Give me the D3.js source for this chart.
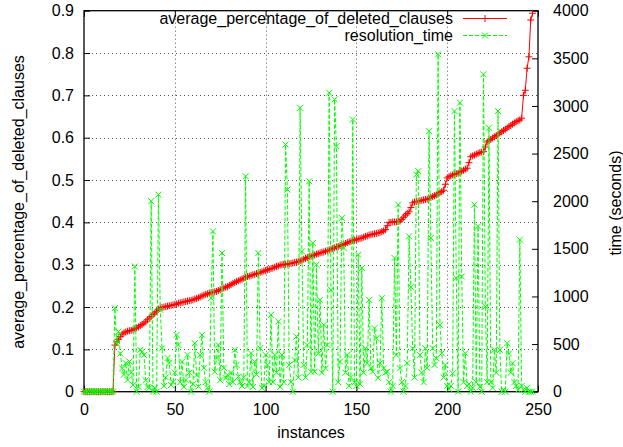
<!DOCTYPE html>
<html><head><meta charset="utf-8">
<script src="https://cdn.jsdelivr.net/npm/d3@7"></script>
<style>
body{margin:0;background:#fff;}
text{font-family:"Liberation Sans",Arial,sans-serif;font-size:16px;fill:#000;}
</style></head>
<body>
<svg id="c" width="623" height="447"></svg>
<script>
// average_percentage_of_deleted_clauses per instance (sorted)
const deletedClauses = [
0,0,0,0,0,0,0,0,0,0,0,0,0,0,0,0,0,
0.110,0.118,0.124,0.130,0.136,0.139,0.141,0.143,0.144,0.145,
0.146,0.149,0.151,0.153,0.156,0.159,0.162,0.165,0.170,0.174,
0.178,0.182,0.186,0.190,0.195,0.198,0.199,0.200,0.201,0.202,
0.203,0.204,0.205,0.206,0.207,0.209,0.210,0.211,0.212,0.213,
0.214,0.215,0.216,0.217,0.219,0.220,0.222,0.224,0.226,0.228,
0.230,0.231,0.233,0.234,0.235,0.236,0.237,0.239,0.241,0.243,
0.245,0.247,0.248,0.251,0.253,0.256,0.258,0.260,0.262,0.264,
0.266,0.268,0.270,0.272,0.273,0.275,0.276,0.277,0.279,0.280,
0.282,0.283,0.285,0.286,0.288,0.289,0.291,0.292,0.294,0.296,
0.297,0.299,0.300,0.301,0.301,0.302,0.302,0.303,0.304,0.305,
0.306,0.307,0.309,0.311,0.313,0.315,0.317,0.319,0.320,0.322,
0.323,0.325,0.326,0.328,0.329,0.330,0.332,0.333,0.335,0.337,
0.338,0.340,0.342,0.343,0.345,0.346,0.348,0.350,0.352,0.354,
0.355,0.357,0.358,0.359,0.361,0.362,0.363,0.365,0.367,0.368,
0.370,0.371,0.372,0.373,0.374,0.375,0.376,0.378,0.380,0.383,
0.392,0.400,0.400,0.401,0.401,0.401,0.402,0.403,0.407,0.412,
0.417,0.421,0.425,0.435,0.446,0.448,0.449,0.450,0.451,0.452,
0.453,0.454,0.455,0.457,0.459,0.461,0.463,0.465,0.467,0.470,
0.473,0.476,0.490,0.505,0.508,0.510,0.512,0.514,0.515,0.516,
0.519,0.521,0.523,0.526,0.528,0.541,0.555,0.557,0.559,0.561,
0.563,0.565,0.566,0.567,0.578,0.590,0.593,0.596,0.599,0.602,
0.605,0.608,0.611,0.614,0.617,0.620,0.623,0.626,0.629,0.632,
0.635,0.638,0.640,0.642,0.646,0.700,0.712,0.764,0.791,0.878,
0.894
];
// resolution_time (seconds) per instance
const resolutionTime = [
0,0,0,0,0,0,0,0,0,0,0,0,0,0,0,0,0,
877,509,631,400,246,180,300,123,316,200,
70,1315,0,50,439,421,386,120,50,40,
2000,0,40,0,2069,860,456,60,150,354,
302,70,100,200,597,491,100,315,50,123,
386,200,0,80,509,175,53,386,597,250,
100,40,0,983,1683,210,354,491,120,1456,
250,144,176,80,200,100,439,281,158,100,
60,150,2262,60,100,404,50,316,180,1456,
456,40,60,386,281,100,807,100,386,200,
737,50,386,100,2595,2122,281,100,0,333,
579,150,2981,1473,281,150,491,2209,210,1561,
210,1333,400,965,200,702,246,491,3139,1070,
0,3069,2577,100,316,1824,1509,200,386,60,
150,2858,100,60,1438,80,1298,200,456,300,
965,246,210,667,561,144,300,983,246,200,
210,100,0,60,1403,386,1964,246,100,0,
60,300,1631,1100,456,150,2280,2315,386,200,
100,456,250,2735,1614,456,281,350,3542,702,
404,150,281,60,30,60,193,2946,1193,0,
3034,1210,100,404,60,80,0,40,1964,100,
1736,50,0,3332,894,100,2771,100,40,439,
200,2946,439,0,20,0,509,400,200,299,
100,60,20,1596,60,20,0,40,0,0,
0
];
const xTicks = [0,50,100,150,200,250];
const yLeftTicks = [0,0.1,0.2,0.3,0.4,0.5,0.6,0.7,0.8,0.9];
const yRightTicks = [0,500,1000,1500,2000,2500,3000,3500,4000];
const seriesNames = ["average_percentage_of_deleted_clauses","resolution_time"];
const axisTitles = {x:"instances", yl:"average_percentage_of_deleted_clauses", yr:"time (seconds)"};

const svg = d3.select("#c");
const L=84, R=538, T=10.7, B=391.7;
const x = d3.scaleLinear().domain([0,250]).range([L,R]);
const yl = d3.scaleLinear().domain([0,0.9]).range([B,T]);
const yr = d3.scaleLinear().domain([0,4000]).range([B,T]);

// grid
const grid = svg.append("g").attr("stroke","#555").attr("stroke-width",1).attr("stroke-dasharray","1,3");
xTicks.slice(1,-1).forEach(t=>grid.append("line").attr("x1",Math.round(x(t))+0.5).attr("x2",Math.round(x(t))+0.5).attr("y1",T).attr("y2",B));
yLeftTicks.slice(1,-1).forEach(t=>grid.append("line").attr("x1",L).attr("x2",R).attr("y1",Math.round(yl(t))+0.5).attr("y2",Math.round(yl(t))+0.5));

// axes
const axB = d3.axisBottom(x).tickValues(xTicks).tickSize(-6).tickPadding(12).tickFormat(d3.format("d"));
const axT = d3.axisTop(x).tickValues(xTicks).tickSize(-6).tickFormat("");
const axL = d3.axisLeft(yl).tickValues(yLeftTicks).tickSize(-6).tickPadding(10).tickFormat(d=>d===0?"0":d3.format(".1f")(d));
const axR = d3.axisRight(yr).tickValues(yRightTicks).tickSize(-6).tickPadding(15).tickFormat(d3.format("d"));
function style(g){g.select(".domain").remove();g.selectAll("line").attr("stroke","#000");g.selectAll("text").attr("font-size",16).attr("font-family","Liberation Sans, Arial, sans-serif").attr("fill","#000");}
svg.append("g").attr("transform",`translate(0,${B})`).call(axB).call(style);
svg.append("g").attr("transform",`translate(0,${T})`).call(axT).call(style);
svg.append("g").attr("transform",`translate(${L},0)`).call(axL).call(style);
svg.append("g").attr("transform",`translate(${R},0)`).call(axR).call(style);

// border
svg.append("rect").attr("x",L).attr("y",T).attr("width",R-L).attr("height",B-T).attr("fill","none").attr("stroke","#000").attr("stroke-width",1.3);

const idx = d3.range(deletedClauses.length);
const red="#ff0000", green="#00ff00";
// red series
const lineL = d3.line().x(i=>x(i)).y(i=>yl(deletedClauses[i]));
svg.append("path").attr("d",lineL(idx)).attr("fill","none").attr("stroke",red).attr("stroke-width",1);
const plus = (g,cx,cy,s)=>g.append("path").attr("d",`M${cx-s},${cy}H${cx+s}M${cx},${cy-s}V${cy+s}`).attr("stroke",red).attr("stroke-width",1).attr("fill","none");
const pg = svg.append("g");
idx.forEach(i=>plus(pg,x(i),yl(deletedClauses[i]),3.5));

// green series
const gIdx = d3.range(resolutionTime.length);
const lineR = d3.line().x(i=>x(i)).y(i=>yr(resolutionTime[i]));
svg.append("path").attr("d",lineR(gIdx)).attr("fill","none").attr("stroke",green).attr("stroke-width",1).attr("stroke-dasharray","4,2");
const cross = (g,cx,cy,s,c)=>g.append("path").attr("d",`M${cx-s},${cy-s}L${cx+s},${cy+s}M${cx-s},${cy+s}L${cx+s},${cy-s}`).attr("stroke",c).attr("stroke-width",1).attr("fill","none");
const cg = svg.append("g");
gIdx.forEach(i=>cross(cg,x(i),yr(resolutionTime[i]),3,green));

// legend
const lg = svg.append("g");
lg.append("text").attr("x",453).attr("y",24).attr("text-anchor","end").text(seriesNames[0]);
lg.append("text").attr("x",453).attr("y",41).attr("text-anchor","end").text(seriesNames[1]);
lg.append("line").attr("x1",463).attr("x2",507).attr("y1",18.5).attr("y2",18.5).attr("stroke",red);
plus(lg,485,18.5,3.5);
lg.append("line").attr("x1",463).attr("x2",507).attr("y1",35.5).attr("y2",35.5).attr("stroke",green).attr("stroke-dasharray","4,2");
cross(lg,485,35.5,3,green);

// titles
svg.append("text").attr("x",311).attr("y",438).attr("text-anchor","middle").text(axisTitles.x);
svg.append("text").attr("transform","translate(24,202) rotate(-90)").attr("text-anchor","middle").text(axisTitles.yl);
svg.append("text").attr("transform","translate(621,203) rotate(-90)").attr("text-anchor","middle").text(axisTitles.yr);
</script>
</body></html>
